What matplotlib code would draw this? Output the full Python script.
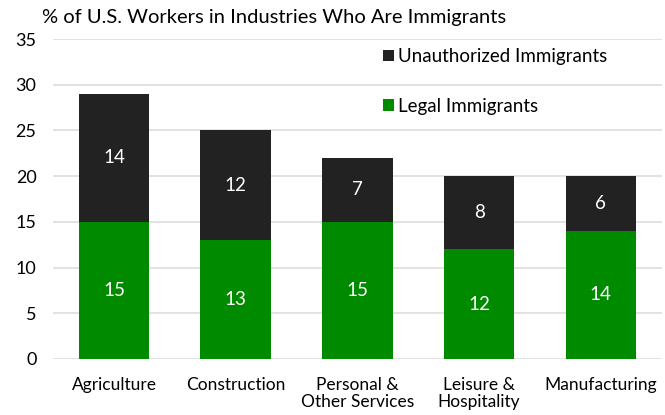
import matplotlib.pyplot as plt
import numpy as np

plt.rcParams['font.family'] = ['Lato', 'DejaVu Sans']

categories = ['Agriculture', 'Construction', 'Personal &\nOther Services',
              'Leisure &\nHospitality', 'Manufacturing']
legal = [15, 13, 15, 12, 14]
unauthorized = [14, 12, 7, 8, 6]

green = '#008a00'
black = '#222222'

fig = plt.figure(figsize=(6.65, 4.15), dpi=100)
ax = fig.add_axes([0.08, 0.135, 0.915, 0.771])

x = np.arange(len(categories))
b1 = ax.bar(x, legal, width=0.58, color=green, label='Legal Immigrants', zorder=2)
b2 = ax.bar(x, unauthorized, width=0.58, bottom=legal, color=black,
            label='Unauthorized Immigrants', zorder=2)

for rect, v in zip(b1, legal):
    ax.text(rect.get_x() + rect.get_width() / 2, rect.get_y() + rect.get_height() / 2,
            str(v), ha='center', va='center', color='white', fontsize=13.5)
for rect, v in zip(b2, unauthorized):
    ax.text(rect.get_x() + rect.get_width() / 2, rect.get_y() + rect.get_height() / 2,
            str(v), ha='center', va='center', color='white', fontsize=13.5)

ax.set_xlim(-0.5, 4.5)
ax.set_ylim(0, 35)
ax.set_yticks(range(0, 36, 5))
ax.set_xticks(x)
ax.set_xticklabels(categories, fontsize=12.5, linespacing=1.05)
ax.tick_params(axis='y', labelsize=13, length=0, pad=12)
ax.tick_params(axis='x', length=0, pad=13)
ax.grid(axis='y', color='#dddddd', linewidth=1.2, zorder=0)
for s in ax.spines.values():
    s.set_visible(False)

handles = [b2, b1]
ax.legend(handles, [h.get_label() for h in handles], loc='upper left',
          bbox_to_anchor=(0.515, 1.025), frameon=False, fontsize=13.5,
          handlelength=0.55, handleheight=0.55, handletextpad=0.25,
          labelspacing=1.75)

fig.text(0.063, 0.957, '% of U.S. Workers in Industries Who Are Immigrants',
         fontsize=14.5, va='center', ha='left')

fig.savefig('out.png', dpi=100)
